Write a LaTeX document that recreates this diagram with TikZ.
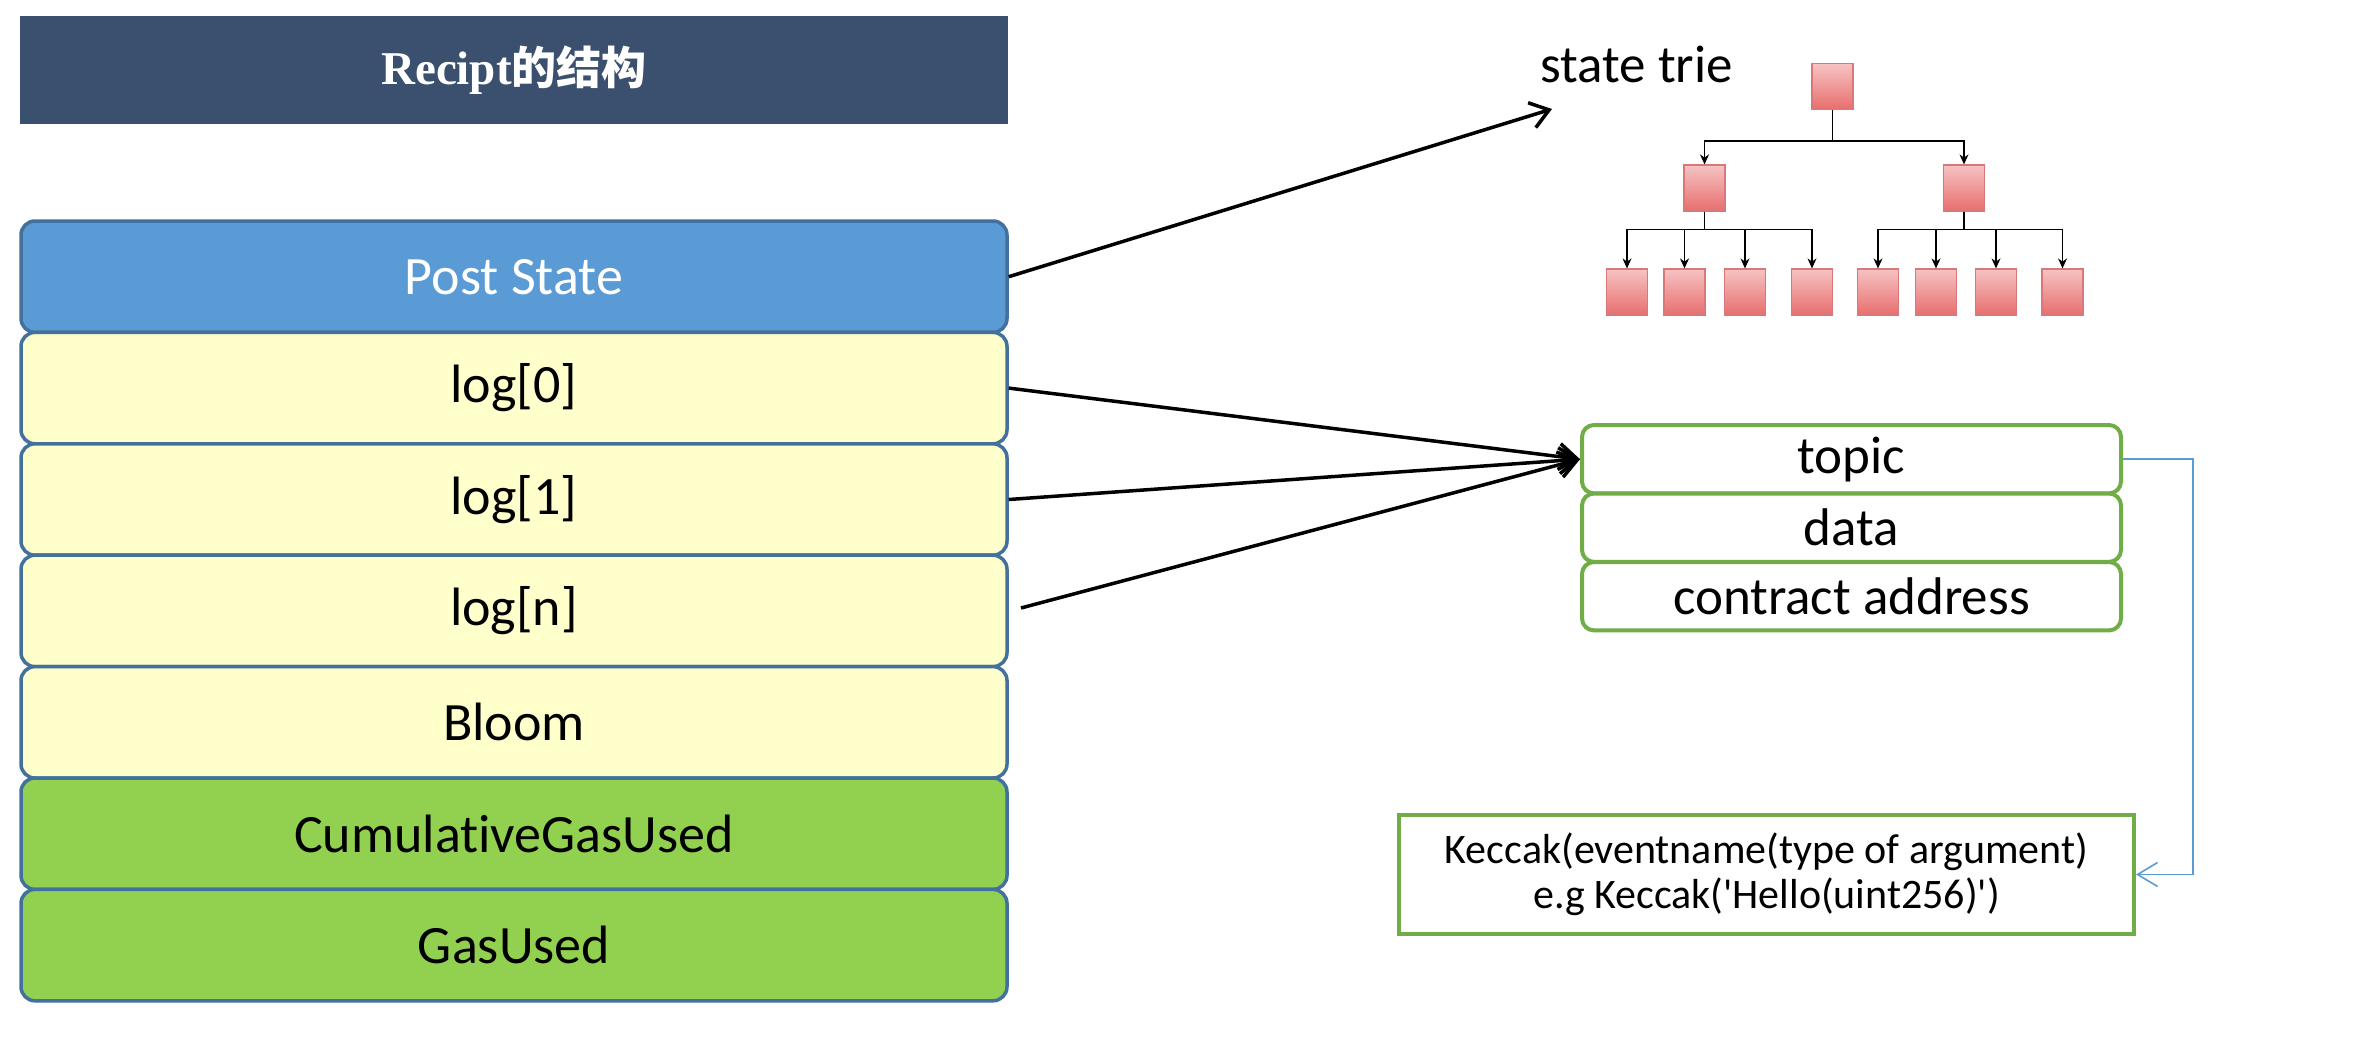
\documentclass[tikz,border=0pt]{standalone}
\usepackage{fontspec}
\setmainfont{Carlito}[Ligatures=NoCommon]
\newfontfamily\titleserif{Liberation Serif}
\newfontfamily\cjkfont{Noto Sans CJK SC}
\usetikzlibrary{arrows.meta}
\newcommand\sq{\XeTeXglyph\XeTeXcharglyph"27\relax}
\definecolor{titlebg}{HTML}{3A506E}
\definecolor{psfill}{HTML}{5B9BD5}
\definecolor{stackborder}{HTML}{41719C}
\definecolor{yellowfill}{HTML}{FFFFCC}
\definecolor{greenfill}{HTML}{92D050}
\definecolor{logborder}{HTML}{70AD47}
\definecolor{bluelink}{HTML}{5B9BD5}
\definecolor{leaftop}{HTML}{F6C3C3}
\definecolor{leafbot}{HTML}{E86E6E}
\definecolor{leafborder}{HTML}{D87878}
\begin{document}
\begin{tikzpicture}[x=0.5pt,y=-0.5pt,
  titlebar/.style={fill=titlebg, minimum width=494pt, minimum height=54pt, inner sep=0pt, text=white},
  stackbox/.style={draw=stackborder, line width=1.75pt, rounded corners=7pt, minimum width=493pt, minimum height=55.7pt, inner sep=0pt, font=\fontsize{27}{32}\selectfont},
  logbox/.style={stackbox, fill=yellowfill},
  gasbox/.style={stackbox, fill=greenfill},
  fieldbox/.style={draw=logborder, fill=white, line width=2pt, rounded corners=6pt, minimum width=269.5pt, minimum height=34.2pt, inner sep=0pt, font=\fontsize{26.5}{31}\selectfont},
  keccakbox/.style={draw=logborder, fill=white, line width=2pt, minimum width=367.5pt, minimum height=59.5pt, inner sep=0pt, align=center, font=\fontsize{21}{22.5}\selectfont},
  treebox/.style={draw=leafborder, line width=0.6pt, top color=leaftop, bottom color=leafbot, minimum width=20.5pt, minimum height=23pt, inner sep=0pt},
  bigarrow/.style={draw=black, line width=1.75pt, -{Straight Barb[length=9pt,width=13pt]}},
  treearrow/.style={draw=black, line width=0.7pt, -{Stealth[length=5pt,width=4.5pt]}},
  linkarrow/.style={draw=bluelink, line width=0.8pt, -{Straight Barb[length=10pt,width=12pt]}}
]
\useasboundingbox (0,0) rectangle (2358,1044);
\fill[white] (0,0) rectangle (2358,1044);

% title
\node[titlebar] (title) at (514,70) {{\fontsize{23.5}{27}\selectfont\titleserif\bfseries Recipt}{\fontsize{22.5}{26}\selectfont\cjkfont\bfseries 的结构}};

% left stack
\node[stackbox, fill=psfill, text=white] (post) at (514,276.7) {Post State};
\node[logbox] (log0) at (514,388.1) {log[0]};
\node[logbox] (log1) at (514,499.5) {log[1]};
\node[logbox] (logn) at (514,610.9) {log[n]};
\node[logbox] (bloom) at (514,722.3) {Bloom};
\node[gasbox] (cumgas) at (514,833.7) {CumulativeGasUsed};
\node[gasbox] (gasused) at (514,945.1) {GasUsed};

% state trie
\node[anchor=base west, inner sep=0pt, font=\fontsize{26.5}{31}\selectfont] (trielabel) at (1540,83) {state trie};
\coordinate (trietip) at (1552,109);
\coordinate (lnstart) at (1021,608);

\node[treebox] (root) at (1832.5,86.5) {};
\node[treebox] (midL) at (1704.5,188) {};
\node[treebox] (midR) at (1964,188) {};
\node[treebox] (l1) at (1627,292) {};
\node[treebox] (l2) at (1684.5,292) {};
\node[treebox] (l3) at (1745,292) {};
\node[treebox] (l4) at (1812,292) {};
\node[treebox] (r1) at (1878,292) {};
\node[treebox] (r2) at (1936,292) {};
\node[treebox] (r3) at (1996,292) {};
\node[treebox] (r4) at (2062.5,292) {};

\draw[treearrow] (root.south) -- ++(0,31) -| (midL.north);
\draw[treearrow] (root.south) -- ++(0,31) -| (midR.north);
\foreach \n in {l1,l2,l3,l4} \draw[treearrow] (midL.south) -- ++(0,18) -| (\n.north);
\foreach \n in {r1,r2,r3,r4} \draw[treearrow] (midR.south) -- ++(0,18) -| (\n.north);

% log fields
\node[fieldbox] (topic) at (1851.5,459.2) {topic};
\node[fieldbox] (data) at (1851.5,527.7) {data};
\node[fieldbox] (contract) at (1851.5,596.2) {contract address};

% keccak
\node[keccakbox] (keccak) at (1766.5,874.5) {Keccak(eventname(type of argument)\\e.g Keccak(\sq Hello(uint256)\sq)};

% connectors
\draw[bigarrow] (post.east) -- (trietip);
\draw[bigarrow] (log0.east) -- (topic.west);
\draw[bigarrow] (log1.east) -- (topic.west);
\draw[bigarrow] (lnstart) -- (topic.west);
\draw[linkarrow] (topic.east) -- ++(70,0) |- (keccak.east);
\end{tikzpicture}
\end{document}
